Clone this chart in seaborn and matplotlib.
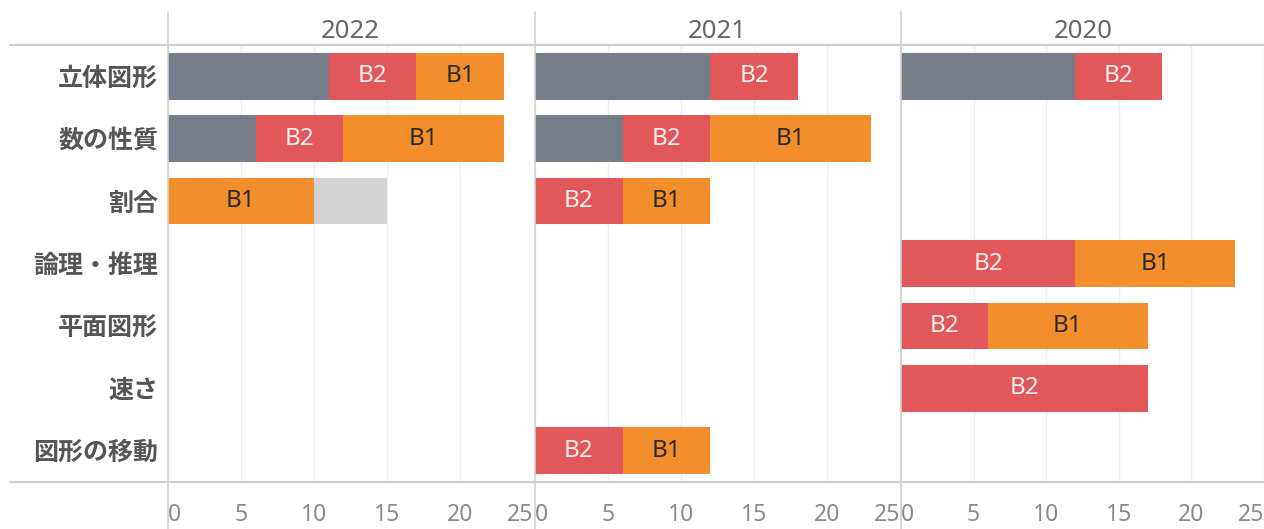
import matplotlib
matplotlib.use("Agg")
import matplotlib.pyplot as plt
import seaborn as sns
import pandas as pd
from matplotlib.lines import Line2D

# ----------------------
# Data (counts per category, one list per year and stack level)
# ----------------------
categories = ['立体図形', '数の性質', '割合', '論理・推理', '平面図形', '速さ', '図形の移動']
years = ['2022', '2021', '2020']
levels = ['A', 'B2', 'B1', 'N']   # stack order, left to right

a_counts = {'2022': [11, 6, 0, 0, 0, 0, 0],
            '2021': [12, 6, 0, 0, 0, 0, 0],
            '2020': [12, 0, 0, 0, 0, 0, 0]}
b2_counts = {'2022': [6, 6, 0, 0, 0, 0, 0],
             '2021': [6, 6, 6, 0, 0, 0, 6],
             '2020': [6, 0, 0, 12, 6, 17, 0]}
b1_counts = {'2022': [6, 11, 10, 0, 0, 0, 0],
             '2021': [0, 11, 6, 0, 0, 0, 6],
             '2020': [0, 0, 0, 11, 11, 0, 0]}
n_counts = {'2022': [0, 0, 5, 0, 0, 0, 0],
            '2021': [0, 0, 0, 0, 0, 0, 0],
            '2020': [0, 0, 0, 0, 0, 0, 0]}

level_counts = {'A': a_counts, 'B2': b2_counts, 'B1': b1_counts, 'N': n_counts}
colors = {'A': '#767d89', 'B2': '#e1575a', 'B1': '#f28e2c', 'N': '#d3d3d3'}
label_colors = {'B2': '#fbeeee', 'B1': '#2a2a2a'}

# long table with start / end of every stacked segment
rows = []
for year in years:
    for i, cat in enumerate(categories):
        start = 0
        for lv in levels:
            v = level_counts[lv][year][i]
            rows.append(dict(year=year, category=cat, level=lv, value=v,
                             start=start, end=start + v))
            start += v
df = pd.DataFrame(rows)

# ----------------------
# Figure
# ----------------------
sns.set_style("white")
plt.rcParams['font.family'] = ['Noto Sans', 'Noto Sans CJK JP', 'DejaVu Sans']

W, H = 1264, 529
fig = plt.figure(figsize=(W / 100, H / 100), dpi=100)

top_px, bot_px = 45, 482
panel_left = [168, 535, 901]
panel_w = 365

for k, year in enumerate(years):
    ax = fig.add_axes([panel_left[k] / W, 1 - bot_px / H,
                       min(panel_w, W - panel_left[k]) / W, (bot_px - top_px) / H])
    ydf = df[(df['year'] == year) & (df['value'] > 0)]

    # draw cumulative bars from the longest down, so each level covers the previous
    for lv in reversed(levels):
        sub = ydf[ydf['level'] == lv]
        if sub.empty:
            continue
        sns.barplot(data=sub, x='end', y='category', order=categories, orient='h',
                    color=colors[lv], saturation=1, width=0.75, errorbar=None,
                    linewidth=0, ax=ax)

    # segment labels
    for _, r in ydf[ydf['level'].isin(['B2', 'B1'])].iterrows():
        ax.text(r['start'] + r['value'] / 2, categories.index(r['category']), r['level'],
                ha='center', va='center', fontsize=17.5, color=label_colors[r['level']])

    ax.set_xlim(0, 25 * min(panel_w, W - panel_left[k]) / panel_w)
    ax.set_ylim(len(categories) - 0.5, -0.5)
    ax.set_xlabel('')
    ax.set_ylabel('')
    for s in ax.spines.values():
        s.set_visible(False)

    ticks = [0, 5, 10, 15, 20, 25]
    ax.set_xticks(ticks)
    ax.set_xticklabels([str(t) for t in ticks])
    xl = ax.get_xticklabels()
    xl[0].set_ha('left')
    xl[-1].set_ha('right')
    ax.tick_params(axis='x', length=9, width=1, color='#eeeeee', pad=6,
                   labelsize=16.5, labelcolor='#8a8a8a')
    ax.grid(axis='x', color='#eeeeee', linewidth=1)
    ax.grid(axis='y', visible=False)
    ax.set_axisbelow(True)

    if k == 0:
        ax.set_yticks(range(len(categories)))
        ax.set_yticklabels(categories, fontsize=18, fontweight='bold', color='#555555',
                           family=['Noto Sans CJK JP', 'DejaVu Sans'])
        ax.tick_params(axis='y', length=0, pad=7)
    else:
        ax.set_yticks(range(len(categories)))
        ax.tick_params(axis='y', length=0, labelleft=False)

    fig.text((panel_left[k] + panel_w / 2) / W, 1 - 31 / H, year, ha='center', va='center',
             fontsize=18.5, color='#666666')

# header / footer rules and panel separators
line_c = '#d0d0d0'
for y_px in (top_px, bot_px):
    fig.add_artist(Line2D([10 / W, 1], [1 - y_px / H] * 2, color=line_c, linewidth=1.6))
for x_px in (168, 534.5, 900.5):
    fig.add_artist(Line2D([x_px / W] * 2, [1 - 12 / H, 0], color=line_c, linewidth=1.2))

fig.savefig('out.png', dpi=100, facecolor='white')
